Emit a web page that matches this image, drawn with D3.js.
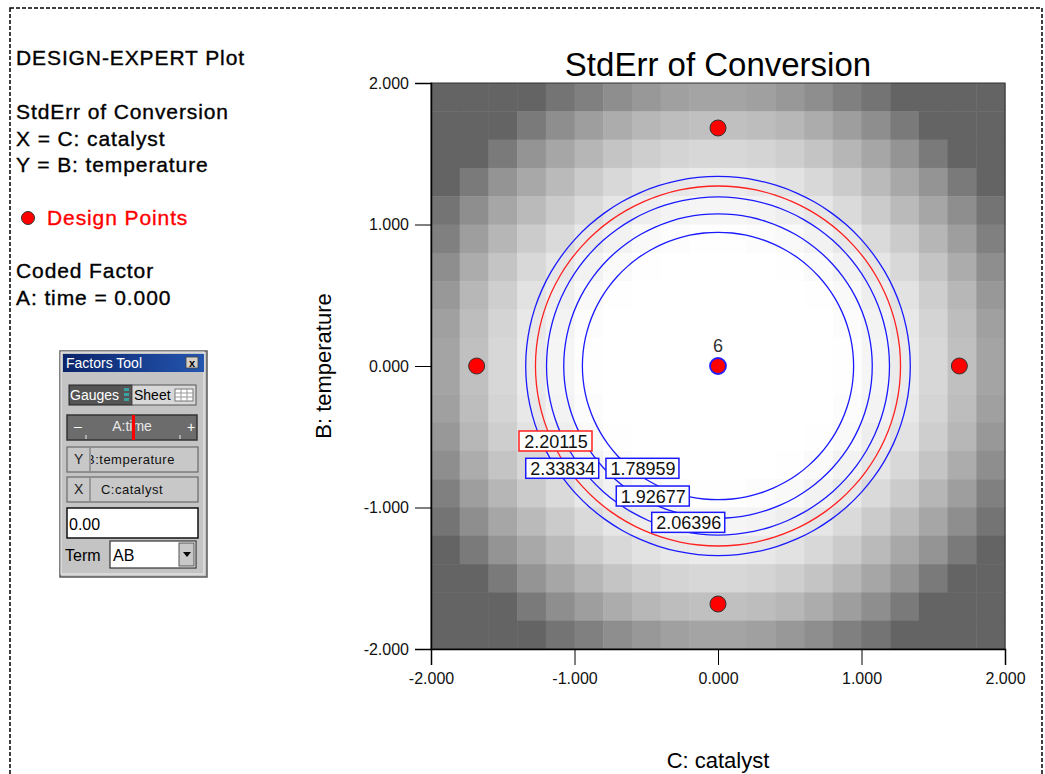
<!DOCTYPE html>
<html lang="en">
<head>
<meta charset="UTF-8">
<title>StdErr of Conversion</title>
<script src="https://d3js.org/d3.v7.min.js"></script>
<style>
    body { margin: 0; background: #ffffff; font-family: 'Liberation Sans', Arial, sans-serif; }
    svg text { font-family: 'Liberation Sans', Arial, sans-serif; }
    .tick-label { font-size: 16px; fill: #111; }
    .side-text { font-size: 21px; fill: #000; letter-spacing: 0.9px; stroke: #000; stroke-width: 0.35px; }
    .ft-text { font-size: 14px; }
</style>
</head>
<body>
<div id="chart"></div>
<script>
// grey level of every cell of the 20 x 20 StdErr map (top row first)
const shade = [
  [100,100,100,100,116,128,142,152,160,164,164,160,152,142,128,116,100,100,100,100],
  [100,100,100,122,142,158,172,183,189,192,192,189,183,172,158,142,122,100,100,100],
  [100,100,122,148,166,182,196,206,212,215,215,212,206,196,182,166,148,122,100,100],
  [100,122,148,168,186,203,216,226,232,235,235,232,226,216,203,186,168,148,122,100],
  [116,142,166,186,203,218,230,238,243,245,245,243,238,230,218,203,186,166,142,116],
  [128,158,182,203,218,232,242,249,252,254,254,252,249,242,232,218,203,182,158,128],
  [142,172,196,216,230,242,250,254,255,255,255,255,254,250,242,230,216,196,172,142],
  [152,183,206,226,238,249,254,255,255,255,255,255,255,254,249,238,226,206,183,152],
  [160,189,212,232,243,252,255,255,255,255,255,255,255,255,252,243,232,212,189,160],
  [164,192,215,235,245,254,255,255,255,255,255,255,255,255,254,245,235,215,192,164],
  [164,192,215,235,245,254,255,255,255,255,255,255,255,255,254,245,235,215,192,164],
  [160,189,212,232,243,252,255,255,255,255,255,255,255,255,252,243,232,212,189,160],
  [152,183,206,226,238,249,254,255,255,255,255,255,255,254,249,238,226,206,183,152],
  [142,172,196,216,230,242,250,254,255,255,255,255,254,250,242,230,216,196,172,142],
  [128,158,182,203,218,232,242,249,252,254,254,252,249,242,232,218,203,182,158,128],
  [116,142,166,186,203,218,230,238,243,245,245,243,238,230,218,203,186,166,142,116],
  [100,122,148,168,186,203,216,226,232,235,235,232,226,216,203,186,168,148,122,100],
  [100,100,122,148,166,182,196,206,212,215,215,212,206,196,182,166,148,122,100,100],
  [100,100,100,122,142,158,172,183,189,192,192,189,183,172,158,142,122,100,100,100],
  [100,100,100,100,116,128,142,152,160,164,164,160,152,142,128,116,100,100,100,100]
];

// contour levels and their radius in coded units
const contourLevels = [1.78959, 1.92677, 2.06396, 2.20115, 2.33834];
const contourRadius = [0.945, 1.075, 1.195, 1.272, 1.340];
const contourColor  = ["#1a1aff", "#1a1aff", "#1a1aff", "#ff2020", "#1a1aff"];
// where each contour label sits (coded units)
const labelX = [-0.523, -0.451, -0.204, -1.129, -1.082];
const labelY = [-0.723, -0.919, -1.105, -0.530, -0.723];

// design points (C, B) and replicate counts
const pointsC = [0, 0, -1.682, 1.682, 0];
const pointsB = [1.682, -1.682, 0, 0, 0];
const pointsN = [1, 1, 1, 1, 6];

const tickValues = [-2, -1, 0, 1, 2];

const sideLines = [
  { text: "DESIGN-EXPERT Plot", y: 65 },
  { text: "StdErr of Conversion", y: 119 },
  { text: "X = C: catalyst", y: 146 },
  { text: "Y = B: temperature", y: 172 },
  { text: "Coded Factor", y: 278 },
  { text: "A: time = 0.000", y: 305 }
];

const W = 1045, H = 774;
const plot = { left: 431, right: 1005, top: 83, bottom: 649 };

const svg = d3.select("#chart").append("svg")
    .attr("width", W).attr("height", H);

// dashed page frame
svg.append("rect")
    .attr("x", 10).attr("y", 8).attr("width", 1032).attr("height", 800)
    .attr("fill", "none").attr("stroke", "#000").attr("stroke-width", 1.5)
    .attr("stroke-dasharray", "4,2");

const x = d3.scaleLinear().domain([-2, 2]).range([plot.left, plot.right]);
const y = d3.scaleLinear().domain([-2, 2]).range([plot.bottom, plot.top]);
const colBand = d3.scaleBand().domain(d3.range(20)).range([plot.left, plot.right]);
const rowBand = d3.scaleBand().domain(d3.range(20)).range([plot.top, plot.bottom]);
const grey = d3.scaleLinear().domain([100, 255]).range(["#646464", "#ffffff"]);
const fmt = d => d.toFixed(3);

// shaded cells
const cells = [];
shade.forEach((row, r) => row.forEach((v, c) => cells.push({ r, c, v })));
svg.append("g").selectAll("rect")
    .data(cells)
    .join("rect")
    .attr("x", d => colBand(d.c))
    .attr("y", d => rowBand(d.r))
    .attr("width", colBand.bandwidth() + 0.5)
    .attr("height", rowBand.bandwidth() + 0.5)
    .attr("fill", d => grey(d.v));

// contours
const angles = d3.range(0, 360, 6);
const ring = d3.line().curve(d3.curveCardinalClosed);
svg.append("g").selectAll("path")
    .data(contourLevels.map((lv, i) => ({ lv, r: contourRadius[i], col: contourColor[i] })))
    .join("path")
    .attr("d", d => ring(angles.map(a => [
        x(d.r * Math.cos(a * Math.PI / 180)),
        y(d.r * Math.sin(a * Math.PI / 180))
    ])))
    .attr("fill", "none")
    .attr("stroke", d => d.col)
    .attr("stroke-width", 1.3);

// frame of the plot
svg.append("rect")
    .attr("x", plot.left).attr("y", plot.top)
    .attr("width", plot.right - plot.left).attr("height", plot.bottom - plot.top)
    .attr("fill", "none").attr("stroke", "#333").attr("stroke-width", 1);

// axes
const xAxis = svg.append("g")
    .attr("transform", `translate(0,${plot.bottom})`)
    .call(d3.axisBottom(x).tickValues(tickValues).tickFormat(fmt).tickSize(16).tickPadding(8));
const yAxis = svg.append("g")
    .attr("transform", `translate(${plot.left},0)`)
    .call(d3.axisLeft(y).tickValues(tickValues).tickFormat(fmt).tickSize(16).tickPadding(6));
[xAxis, yAxis].forEach(g => {
    g.select(".domain").attr("stroke", "#000").attr("stroke-width", 1.5);
    g.selectAll(".tick line").attr("stroke", "#000");
    g.selectAll(".tick text").attr("class", "tick-label").attr("fill", "#111")
        .style("font-family", "'Liberation Sans', Arial, sans-serif");
});

// contour labels
const labG = svg.append("g").selectAll("g")
    .data(contourLevels.map((lv, i) => ({ lv, col: contourColor[i], lx: labelX[i], ly: labelY[i] })))
    .join("g")
    .attr("transform", d => `translate(${x(d.lx)},${y(d.ly)})`);
labG.append("rect")
    .attr("x", -37).attr("y", -10).attr("width", 73).attr("height", 20)
    .attr("fill", "#fff").attr("stroke", d => d.col).attr("stroke-width", 1.5);
labG.append("text")
    .attr("text-anchor", "middle").attr("y", 7)
    .attr("font-size", 18).attr("fill", "#111")
    .text(d => d.lv.toFixed(5));

// design points
const pts = pointsC.map((c, i) => ({ c, b: pointsB[i], n: pointsN[i] }));
svg.append("g").selectAll("circle")
    .data(pts)
    .join("circle")
    .attr("cx", d => x(d.c)).attr("cy", d => y(d.b))
    .attr("r", 8)
    .attr("fill", "#ff0000")
    .attr("stroke", d => d.n > 1 ? "#2020ff" : "#333")
    .attr("stroke-width", d => d.n > 1 ? 1.8 : 1);
svg.append("g").selectAll("text")
    .data(pts.filter(d => d.n > 1))
    .join("text")
    .attr("x", d => x(d.c)).attr("y", d => y(d.b) - 14)
    .attr("text-anchor", "middle").attr("font-size", 18).attr("fill", "#333")
    .text(d => d.n);

// titles
svg.append("text")
    .attr("x", (plot.left + plot.right) / 2).attr("y", 76)
    .attr("text-anchor", "middle").attr("font-size", 33).attr("fill", "#000")
    .text("StdErr of Conversion");
svg.append("text")
    .attr("x", (plot.left + plot.right) / 2).attr("y", 768)
    .attr("text-anchor", "middle").attr("font-size", 22).attr("fill", "#000")
    .text("C: catalyst");
svg.append("text")
    .attr("transform", `translate(331,${(plot.top + plot.bottom) / 2}) rotate(-90)`)
    .attr("text-anchor", "middle").attr("font-size", 22).attr("fill", "#000")
    .text("B: temperature");

// left hand text block
svg.append("g").selectAll("text")
    .data(sideLines)
    .join("text")
    .attr("class", "side-text")
    .attr("x", 16).attr("y", d => d.y)
    .text(d => d.text);
svg.append("circle").attr("cx", 28).attr("cy", 218).attr("r", 6.5)
    .attr("fill", "#ff0000").attr("stroke", "#333").attr("stroke-width", 1);
svg.append("text").attr("class", "side-text").attr("x", 47).attr("y", 225)
    .style("fill", "#ff0000").style("stroke", "#ff0000").text("Design Points");

// Factors Tool panel
const ft = svg.append("g");
const defs = svg.append("defs");
const grad = defs.append("linearGradient").attr("id", "titlebar");
grad.append("stop").attr("offset", "0%").attr("stop-color", "#0a246a");
grad.append("stop").attr("offset", "100%").attr("stop-color", "#2456b0");
defs.append("clipPath").attr("id", "yclip").append("rect")
    .attr("x", 91).attr("y", 447).attr("width", 106).attr("height", 25);

ft.append("rect").attr("x", 60).attr("y", 351).attr("width", 147).attr("height", 226)
    .attr("fill", "#c4c4c4").attr("stroke", "#5a5a5a").attr("stroke-width", 1.5);
ft.append("rect").attr("x", 61).attr("y", 352).attr("width", 143).attr("height", 222)
    .attr("fill", "none").attr("stroke", "#eeeeee").attr("stroke-width", 1);
ft.append("rect").attr("x", 63).attr("y", 354).attr("width", 141).attr("height", 18)
    .attr("fill", "url(#titlebar)");
ft.append("text").attr("x", 66).attr("y", 368).attr("class", "ft-text")
    .attr("fill", "#fff").text("Factors Tool");
ft.append("rect").attr("x", 186).attr("y", 357).attr("width", 12).attr("height", 11)
    .attr("fill", "#d4d0c8").attr("stroke", "#404040").attr("stroke-width", 0.8);
ft.append("text").attr("x", 192).attr("y", 366.5).attr("text-anchor", "middle")
    .attr("font-size", 11).attr("font-weight", "bold").attr("fill", "#000").text("x");

// Gauges / Sheet toggle
ft.append("rect").attr("x", 69).attr("y", 385).attr("width", 63).attr("height", 20)
    .attr("fill", "#555").attr("stroke", "#222");
ft.append("text").attr("x", 70).attr("y", 400).attr("class", "ft-text").attr("fill", "#fff").text("Gauges");
[388, 393, 398].forEach(yy => ft.append("rect").attr("x", 124).attr("y", yy).attr("width", 5).attr("height", 3).attr("fill", "#3aa0a0"));
ft.append("rect").attr("x", 132).attr("y", 385).attr("width", 64).attr("height", 20)
    .attr("fill", "#d8d8d8").attr("stroke", "#555");
ft.append("text").attr("x", 134).attr("y", 400).attr("class", "ft-text").attr("fill", "#000").text("Sheet");
ft.append("rect").attr("x", 175).attr("y", 389).attr("width", 18).attr("height", 12)
    .attr("fill", "#fff").attr("stroke", "#777");
[181, 187].forEach(xx => ft.append("line").attr("x1", xx).attr("x2", xx).attr("y1", 389).attr("y2", 401).attr("stroke", "#999"));
[393, 397].forEach(yy => ft.append("line").attr("x1", 175).attr("x2", 193).attr("y1", yy).attr("y2", yy).attr("stroke", "#999"));

// A:time gauge
ft.append("rect").attr("x", 67).attr("y", 415).attr("width", 130).attr("height", 25)
    .attr("fill", "#6c6c6c").attr("stroke", "#333").attr("stroke-width", 1.5);
ft.append("text").attr("x", 74).attr("y", 431).attr("class", "ft-text").attr("fill", "#fff").text("–");
ft.append("text").attr("x", 187).attr("y", 432).attr("class", "ft-text").attr("fill", "#fff").text("+");
ft.append("text").attr("x", 132).attr("y", 431).attr("text-anchor", "middle").attr("class", "ft-text")
    .attr("fill", "#e8e8e8").text("A:time");
[86, 180].forEach(xx => ft.append("line").attr("x1", xx).attr("x2", xx).attr("y1", 435).attr("y2", 439).attr("stroke", "#eee"));
ft.append("rect").attr("x", 132).attr("y", 415).attr("width", 3).attr("height", 25).attr("fill", "#ff0000");

// Y / X rows
[{ lab: "Y", txt: "B:temperature", y0: 447, tx: 86, anchor: "start", clip: true },
 { lab: "X", txt: "C:catalyst", y0: 477, tx: 132, anchor: "middle", clip: false }].forEach(r => {
    ft.append("rect").attr("x", 67).attr("y", r.y0).attr("width", 131).attr("height", 25)
        .attr("fill", "#c8c8c8").attr("stroke", "#6a6a6a").attr("stroke-width", 1.2);
    ft.append("line").attr("x1", 90).attr("x2", 90).attr("y1", r.y0 + 1).attr("y2", r.y0 + 24).attr("stroke", "#6a6a6a");
    ft.append("text").attr("x", 74).attr("y", r.y0 + 17).attr("class", "ft-text").attr("fill", "#222").text(r.lab);
    const t = ft.append("text").attr("x", r.tx).attr("y", r.y0 + 17).attr("text-anchor", r.anchor)
        .attr("font-size", 13).attr("fill", "#111").attr("letter-spacing", 0.5).text(r.txt);
    if (r.clip) t.attr("clip-path", "url(#yclip)");
});

// value box
ft.append("rect").attr("x", 67).attr("y", 508).attr("width", 131).attr("height", 30)
    .attr("fill", "#fff").attr("stroke", "#111").attr("stroke-width", 1.5);
ft.append("text").attr("x", 69).attr("y", 530).attr("font-size", 16).attr("fill", "#000").text("0.00");

// Term dropdown
ft.append("text").attr("x", 65).attr("y", 561).attr("font-size", 16).attr("fill", "#000").text("Term");
ft.append("rect").attr("x", 110).attr("y", 541).attr("width", 86).attr("height", 27)
    .attr("fill", "#fff").attr("stroke", "#333").attr("stroke-width", 1.2);
ft.append("text").attr("x", 113).attr("y", 561).attr("font-size", 16).attr("fill", "#000").text("AB");
ft.append("rect").attr("x", 179).attr("y", 543).attr("width", 15).attr("height", 23)
    .attr("fill", "#c8c8c8").attr("stroke", "#555");
ft.append("path").attr("d", "M183,552 L191,552 L187,557 Z").attr("fill", "#000");
</script>
</body>
</html>
